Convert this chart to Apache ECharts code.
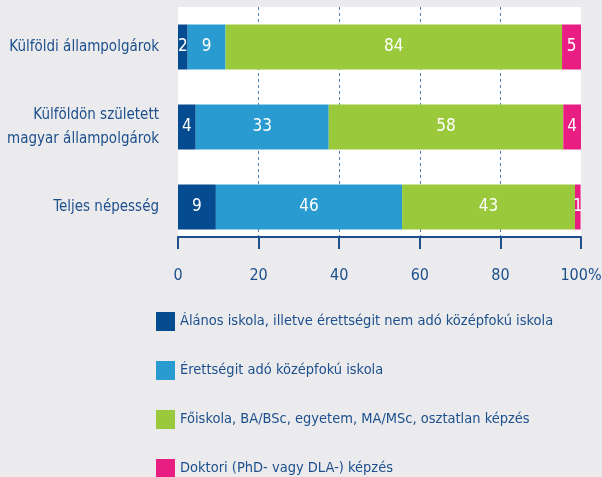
<!DOCTYPE html>
<html>
<head>
<meta charset="utf-8">
<script src="https://cdn.jsdelivr.net/npm/echarts@6/dist/echarts.min.js"></script>
<style>
    html, body { margin: 0; padding: 0; background: #ebebee; }
    #chart { width: 602px; height: 477px; }
</style>
</head>
<body>
<div id="chart"></div>
<script>
// kategóriák (felülről lefelé)
const categories = ['Külföldi állampolgárok', 'Külföldön született\nmagyar állampolgárok', 'Teljes népesség']
const seriesNames = [
    'Álános iskola, illetve érettségit nem adó középfokú iskola',
    'Érettségit adó középfokú iskola',
    'Főiskola, BA/BSc, egyetem, MA/MSc, osztatlan képzés',
    'Doktori (PhD- vagy DLA-) képzés'
]
const primaryValues = [2.4, 4.4, 9.4]
const secondaryValues = [9.4, 33.0, 46.2]
const tertiaryValues = [83.5, 58.2, 42.9]
const doctoralValues = [4.7, 4.4, 1.4]
const xTicks = [0, 20, 40, 60, 80, 100]
const colorList = ['#054b8f', '#2a9bd0', '#9aca3c', '#e91e82']

const textColor = '#1c4f8c'
const font = "'Liberation Sans Narrow', 'DejaVu Sans Condensed', sans-serif"

const myChart = echarts.init(document.getElementById('chart'))

const dataList = [primaryValues, secondaryValues, tertiaryValues, doctoralValues]
const series = dataList.map((data, index) => {
    return {
        name: seriesNames[index],
        type: 'bar',
        stack: 'total',
        data: data,
        barWidth: 45,
        itemStyle: { color: colorList[index] },
        label: {
            show: true,
            position: 'inside',
            color: '#fff',
            fontFamily: font,
            fontSize: 17,
            formatter: p => Math.round(p.value)
        }
    }
})

const option = {
    backgroundColor: '#ebebee',
    animation: false,
    // fehér rajzterület
    graphic: {
        elements: [{
            type: 'rect',
            z: -10,
            silent: true,
            shape: { x: 178, y: 7, width: 403, height: 230 },
            style: { fill: '#fff' }
        }]
    },
    grid: {
        left: 178,
        right: 21,
        top: 7,
        height: 240,
        containLabel: false,
        outerBoundsMode: 'none'
    },
    xAxis: {
        type: 'value',
        min: xTicks[0],
        max: xTicks[xTicks.length - 1],
        interval: 20,
        offset: -10,
        axisLine: {
            show: true,
            lineStyle: { color: textColor, width: 2 }
        },
        axisTick: {
            show: true,
            length: 12,
            lineStyle: { color: textColor, width: 2 }
        },
        axisLabel: {
            margin: 31,
            color: textColor,
            fontFamily: font,
            fontSize: 16,
            formatter: v => v === 100 ? '100%' : String(v)
        },
        splitLine: {
            show: true,
            showMinLine: false,
            showMaxLine: false,
            lineStyle: { color: '#4f7fb5', type: [3, 3], width: 1 }
        }
    },
    yAxis: {
        type: 'category',
        inverse: true,
        data: categories,
        axisLine: { show: false },
        axisTick: { show: false },
        axisLabel: {
            margin: 19,
            color: textColor,
            fontFamily: font,
            fontSize: 15,
            lineHeight: 24,
            align: 'right'
        }
    },
    legend: {
        orient: 'vertical',
        left: 151,
        top: 307,
        height: 200,
        itemWidth: 19,
        itemHeight: 19,
        itemGap: 30,
        icon: 'rect',
        data: seriesNames,
        textStyle: {
            color: textColor,
            fontFamily: font,
            fontSize: 14.5
        }
    },
    series: series
}
myChart.setOption(option)
</script>
</body>
</html>
